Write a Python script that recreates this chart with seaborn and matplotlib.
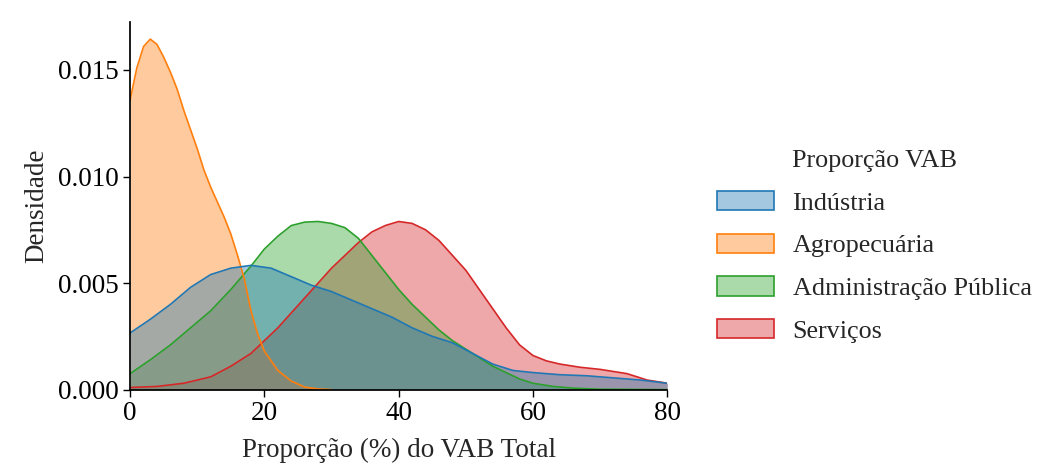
import numpy as np
import pandas as pd
import matplotlib
matplotlib.use("Agg")
import matplotlib.pyplot as plt
from matplotlib.patches import Patch
from matplotlib.colors import to_rgba
import seaborn as sns

# densidades (x em %, y = densidade)
setores = ['Indústria', 'Agropecuária', 'Administração Pública', 'Serviços']

industria_x = [0, 3, 6, 9, 12, 15, 18, 21, 24, 27, 30, 33, 36, 39, 42, 45, 48, 51,
               54, 57, 60, 64, 68, 72, 76, 80]
industria_y = [0.00266, 0.0033, 0.0040, 0.0048, 0.0054, 0.0057, 0.00583, 0.0057,
               0.0053, 0.0049, 0.0046, 0.0042, 0.0038, 0.0034, 0.0029, 0.0025,
               0.0022, 0.0017, 0.0012, 0.0009, 0.0008, 0.0007, 0.00065, 0.00055,
               0.00045, 0.0003]

agro_x = [0, 1, 2, 3, 4, 5, 6, 7, 8, 9, 10, 11, 12, 13, 14, 15, 16, 17, 18, 19,
          20, 22, 24, 26, 28, 30]
agro_y = [0.0136, 0.0151, 0.0161, 0.01645, 0.0162, 0.0156, 0.0149, 0.0141,
          0.0131, 0.0122, 0.0113, 0.0103, 0.0095, 0.0088, 0.0081, 0.0073, 0.0063,
          0.0052, 0.0037, 0.0026, 0.0018, 0.0009, 0.0004, 0.00012, 0.00003, 0.0]

admin_x = [0, 3, 6, 9, 12, 15, 18, 20, 22, 24, 26, 28, 30, 32, 34, 36, 38, 40,
           42, 44, 46, 48, 50, 52, 54, 56, 58, 60, 63, 66, 70, 80]
admin_y = [0.00075, 0.0014, 0.0021, 0.0029, 0.0037, 0.0047, 0.0058, 0.0066,
           0.0072, 0.0077, 0.00786, 0.00789, 0.0078, 0.0076, 0.0071, 0.0063,
           0.0055, 0.0047, 0.0040, 0.0034, 0.0028, 0.0023, 0.0019, 0.0015,
           0.0011, 0.0008, 0.0005, 0.0003, 0.00015, 0.00007, 0.00002, 0.0]

servicos_x = [0, 4, 8, 12, 15, 18, 20, 22, 24, 26, 28, 30, 32, 34, 36, 38, 40,
              42, 44, 46, 48, 50, 52, 54, 56, 58, 60, 62, 64, 67, 70, 74, 77, 80]
servicos_y = [0.0001, 0.00015, 0.0003, 0.0006, 0.0011, 0.0017, 0.0023, 0.0029,
              0.0036, 0.0043, 0.0050, 0.0057, 0.0063, 0.0069, 0.0074, 0.0077,
              0.00789, 0.0078, 0.0075, 0.0070, 0.0063, 0.0056, 0.0047, 0.0038,
              0.0029, 0.0021, 0.0016, 0.00135, 0.0012, 0.00105, 0.00095,
              0.00075, 0.00045, 0.0003]

curvas = {
    'Indústria': (industria_x, industria_y),
    'Agropecuária': (agro_x, agro_y),
    'Administração Pública': (admin_x, admin_y),
    'Serviços': (servicos_x, servicos_y),
}

sns.set_theme(style='ticks')
plt.rcParams['font.family'] = ['Liberation Serif', 'DejaVu Serif']
plt.rcParams['axes.edgecolor'] = 'black'
plt.rcParams['xtick.color'] = 'black'
plt.rcParams['ytick.color'] = 'black'

cores = dict(zip(setores, sns.color_palette('tab10', 4)))
alpha = 0.4
fs = 19.5

fig = plt.figure(figsize=(10.41, 4.7), dpi=100)
ax = fig.add_axes([0.125, 0.171, 0.516, 0.783])

# seaborn desenha o primeiro nivel por cima
for setor in reversed(setores):
    xs, ys = curvas[setor]
    ax.fill_between(xs, ys, color=cores[setor], alpha=alpha, linewidth=0)
    sns.lineplot(x=xs, y=ys, color=cores[setor], linewidth=1.2, ax=ax)

ax.set_xlim(0, 80)
ax.set_ylim(0, 0.01727)
ax.set_xticks([0, 20, 40, 60, 80])
ax.set_yticks([0.0, 0.005, 0.010, 0.015])
ax.set_yticklabels(['0.000', '0.005', '0.010', '0.015'])
ax.tick_params(labelsize=fs, length=5, width=1)
ax.set_xlabel('Proporção (%) do VAB Total', fontsize=fs, labelpad=8)
ax.set_ylabel('Densidade', fontsize=fs, labelpad=6)
sns.despine(ax=ax)

handles = [Patch(facecolor=to_rgba(cores[s], alpha), edgecolor=cores[s], linewidth=1.2)
           for s in setores]
fig.legend(handles, setores, title='Proporção VAB', loc='upper left',
           bbox_to_anchor=(0.666, 0.73), frameon=False, fontsize=18.8,
           title_fontsize=18.8, handlelength=2.2, handleheight=0.76,
           labelspacing=0.72, handletextpad=0.7)

fig.savefig('out.png', dpi=100)
